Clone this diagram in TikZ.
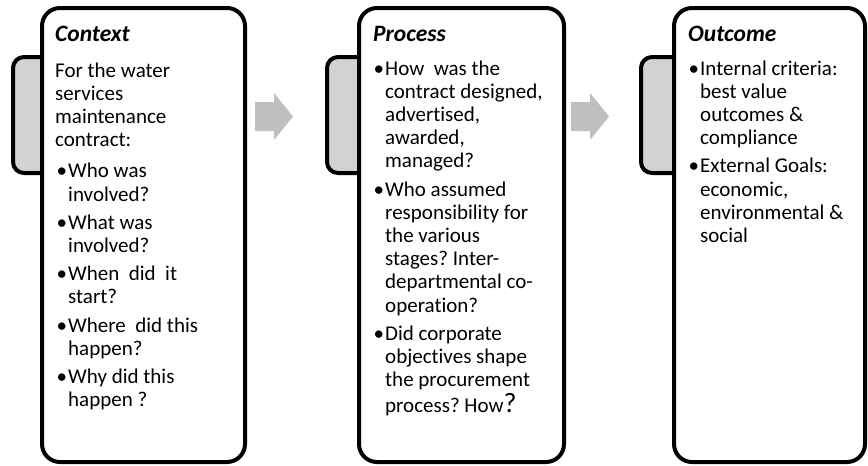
\documentclass[tikz,border=0pt]{standalone}
\usepackage{fontspec}
\setmainfont{Carlito}[Ligatures=NoCommon]
\frenchspacing
\definecolor{tabgray}{RGB}{210,210,210}
\definecolor{arrowgray}{RGB}{191,191,191}
\newcommand\Bu[1]{\hbox{\makebox[13pt][l]{\kern1.5pt\textbullet}#1}}
\newcommand\Cn[1]{\hbox{\kern13pt #1}}
\newcommand\Pl[1]{\hbox{#1}}
\begin{document}
\begin{tikzpicture}[x=1pt,y=-1pt,
  panel/.style={draw=black, line width=4pt, fill=white, rounded corners=18pt,
    inner sep=0pt, rectangle},
  tabbox/.style={draw=black, line width=4pt, fill=tabgray, rounded corners=11pt,
    inner sep=0pt, rectangle},
  flow/.style={fill=arrowgray, draw=none},
  title/.style={anchor=base west, inner sep=0pt,
    font=\fontsize{23.5}{28}\selectfont\bfseries\itshape},
  body/.style={anchor=base west, inner sep=0pt,
    font=\fontsize{21}{23.2}\selectfont\frenchspacing}]
\useasboundingbox (0,0) rectangle (868,466);
% tabs
\node[tabbox, minimum width=49pt, minimum height=116pt] (tab1) at (37.5,115) {};
\node[tabbox, minimum width=52pt, minimum height=116pt] (tab2) at (353,115) {};
\node[tabbox, minimum width=53pt, minimum height=116pt] (tab3) at (667.5,115) {};
% panels
\node[panel, minimum width=203pt, minimum height=454pt] (p1) at (143.5,235) {};
\node[panel, minimum width=205pt, minimum height=454pt] (p2) at (461.5,235) {};
\node[panel, minimum width=191pt, minimum height=454pt] (p3) at (769.5,235) {};
% arrows
\fill[flow] (255,102) -- (274,102) -- (274,93) -- (293,116.5) -- (274,140)
  -- (274,131) -- (255,131) -- cycle;
\fill[flow] (571,102) -- (590,102) -- (590,93) -- (609,116.5) -- (590,140)
  -- (590,131) -- (571,131) -- cycle;
% titles
\node[title] (h1) at (55,41) {Context};
\node[title] (h2) at (373,41) {Process};
\node[title] (h3) at (688,41) {Outcome};
% bodies
\node[body] (b1) at (55,77) {\vtop{%
  \Pl{For the water}
  \Pl{services}
  \Pl{maintenance}
  \Pl{contract:}
  \vskip8pt
  \Bu{Who was}
  \Cn{involved?}
  \vskip5pt
  \Bu{What was}
  \Cn{involved?}
  \vskip5pt
  \Bu{When\ \ did\ \ it}
  \Cn{start?}
  \vskip5pt
  \Bu{Where\ \ did this}
  \Cn{happen?}
  \vskip5pt
  \Bu{Why did this}
  \Cn{happen ?}}};
\node[body] (b2) at (372,75) {\vtop{%
  \Bu{How\ \ was the}
  \Cn{contract designed,}
  \Cn{advertised,}
  \Cn{awarded,}
  \Cn{managed?}
  \vskip5pt
  \Bu{Who assumed}
  \Cn{responsibility for}
  \Cn{the various}
  \Cn{stages? Inter-}
  \Cn{departmental co-}
  \Cn{operation?}
  \vskip5pt
  \Bu{Did corporate}
  \Cn{objectives shape}
  \Cn{the procurement}
  \vskip3pt
  \Cn{process? How{\fontsize{28}{30}\selectfont ?}}}};
\node[body] (b3) at (687,75) {\vtop{%
  \Bu{Internal criteria:}
  \Cn{best value}
  \Cn{outcomes \&}
  \Cn{compliance}
  \vskip5pt
  \Bu{External Goals:}
  \Cn{economic,}
  \Cn{environmental \&}
  \Cn{social}}};
\end{tikzpicture}
\end{document}
